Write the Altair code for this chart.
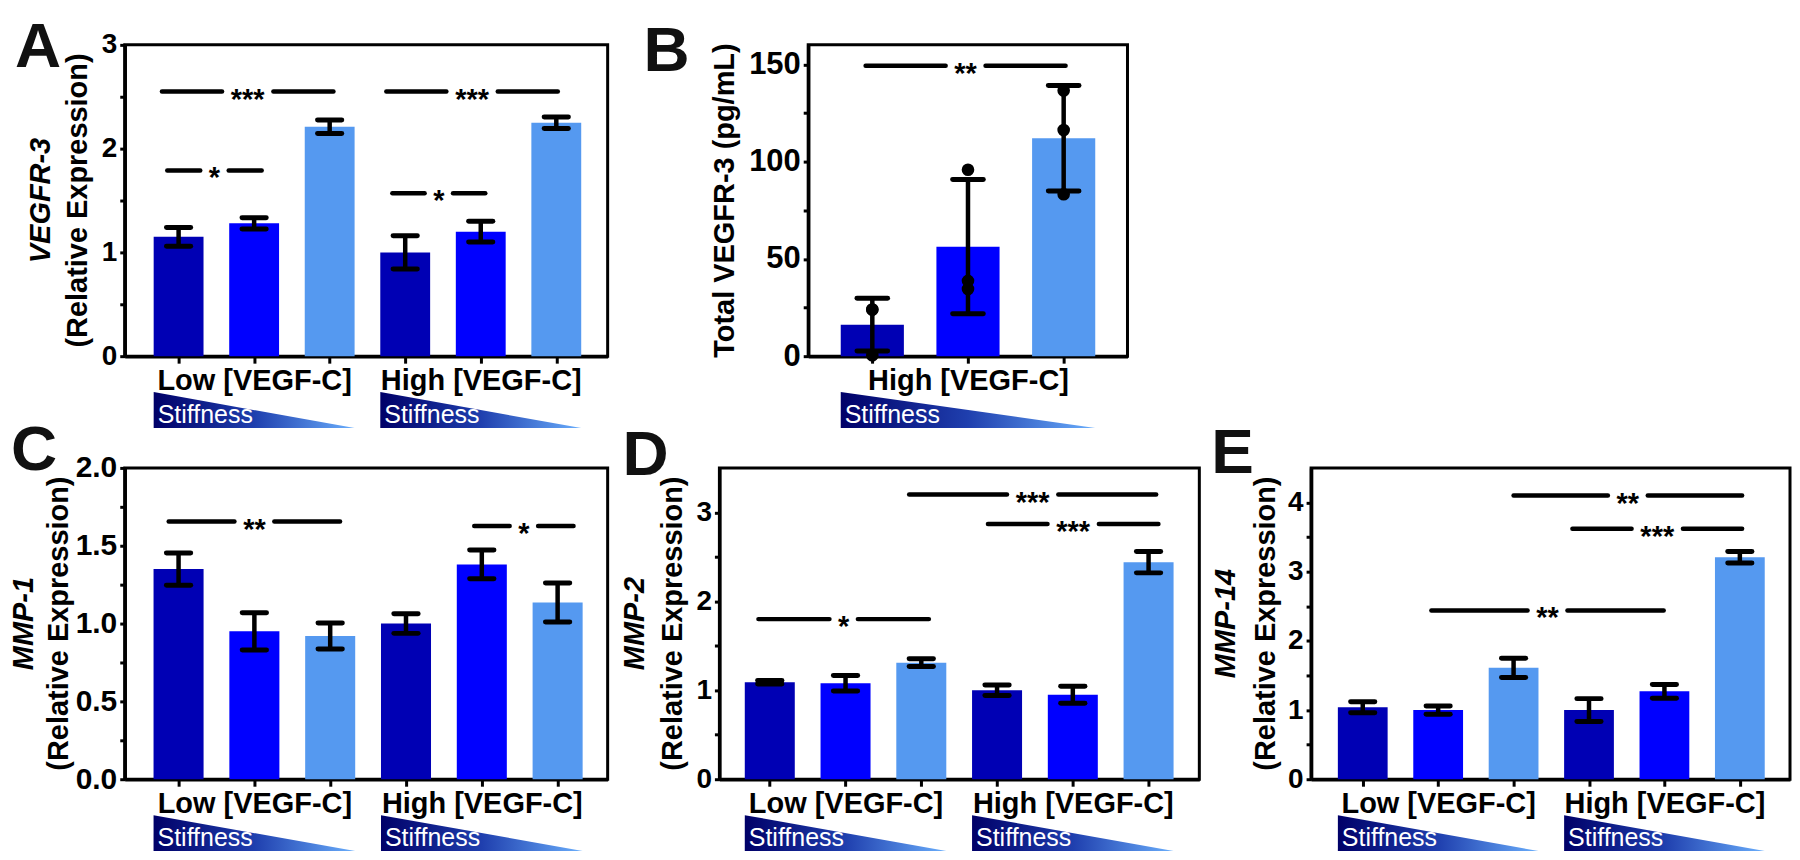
import altair as alt
import pandas as pd

FONT = "Liberation Sans"
DARK, MID, LIGHT = "#0000b4", "#0000ff", "#5599f0"

# ---------------- data ----------------
colors6 = [DARK, MID, LIGHT, DARK, MID, LIGHT]
colors3 = [DARK, MID, LIGHT]

a_mean = [1.15, 1.28, 2.21, 1.00, 1.20, 2.25]
a_err = [0.09, 0.055, 0.065, 0.16, 0.10, 0.055]
a_sig_x1 = [-0.22, 2.75, -0.15, 2.83]
a_sig_x2 = [2.05, 5.02, 1.10, 4.06]
a_sig_y = [2.55, 2.55, 1.79, 1.57]
a_sig_lab = ["***", "***", "*", "*"]

b_mean = [16.2, 56.3, 112.0]
b_err = [13.6, 34.5, 27.1]
b_pts_bar = [0, 0, 0, 1, 1, 1, 2, 2, 2]
b_pts_val = [24.0, 24.0, 0.5, 95.8, 38.7, 34.5, 136.5, 116.2, 83.2]
b_sig_x1 = [-0.07]
b_sig_x2 = [2.02]
b_sig_y = [149.3]
b_sig_lab = ["**"]

c_mean = [1.35, 0.95, 0.92, 1.00, 1.38, 1.135]
c_err = [0.104, 0.12, 0.083, 0.063, 0.092, 0.125]
c_sig_x1 = [-0.13, 3.90]
c_sig_x2 = [2.13, 5.21]
c_sig_y = [1.655, 1.627]
c_sig_lab = ["**", "*"]

d_mean = [1.09, 1.08, 1.31, 1.00, 0.95, 2.44]
d_err = [0.02, 0.087, 0.044, 0.06, 0.095, 0.12]
d_sig_x1 = [1.84, 2.88, -0.15]
d_sig_x2 = [5.10, 5.13, 2.10]
d_sig_y = [3.20, 2.87, 1.80]
d_sig_lab = ["***", "***", "*"]

e_mean = [1.04, 1.00, 1.61, 1.00, 1.27, 3.21]
e_err = [0.08, 0.06, 0.14, 0.165, 0.10, 0.083]
e_sig_x1 = [2.00, 2.78, 0.91]
e_sig_x2 = [5.03, 5.03, 3.99]
e_sig_y = [4.10, 3.62, 2.44]
e_sig_lab = ["**", "***", "**"]

HALF_BAR = 0.33
CAP = 0.16

GRAD = alt.Gradient(
    gradient="linear",
    stops=[
        alt.GradientStop(color="#000068", offset=0),
        alt.GradientStop(color="#1f3fae", offset=0.5),
        alt.GradientStop(color="#6aaefc", offset=1),
    ],
    x1=0, x2=1, y1=0, y2=0,
)


def make_panel(means, errs, colors, sx1, sx2, sy, slab, ydom, yticks, ymajor, yfmt,
               ylab_size, w, h, xdom, glabels, groups, letter, letter_xy,
               title_lines, title_x, pts=None):
    n = len(means)
    ppx = w / (xdom[1] - xdom[0])
    ppy = h / (ydom[1] - ydom[0])
    idx = list(range(n))

    bars = pd.DataFrame({"i": idx, "mean": means, "err": errs, "color": colors})
    bars["l"] = bars["i"] - HALF_BAR
    bars["r"] = bars["i"] + HALF_BAR
    bars["lo"] = bars["mean"] - bars["err"]
    bars["hi"] = bars["mean"] + bars["err"]
    bars["cl"] = bars["i"] - CAP
    bars["cr"] = bars["i"] + CAP
    bars["zero"] = 0.0

    xscale = alt.Scale(domain=xdom, nice=False, zero=False)
    yscale = alt.Scale(domain=ydom, nice=False, zero=False)

    xexpr = " : ".join(f"datum.value == {k} ? '{v}'" for k, v in glabels.items()) + " : ''"
    xaxis = alt.Axis(values=idx, labelExpr=xexpr, title=None, grid=False,
                     tickSize=7, tickWidth=3, tickColor="black",
                     domainWidth=3.5, domainColor="black",
                     labelFont=FONT, labelFontSize=29, labelFontWeight="bold",
                     labelColor="black", labelPadding=3, labelOverlap=False,
                     labelFlush=False, labelBound=False, labelLimit=600)
    major_list = "[" + ",".join(str(v) for v in ymajor) + "]"
    yexpr = f"indexof({major_list}, datum.value) >= 0 ? format(datum.value, '{yfmt}') : ''"
    yaxis = alt.Axis(values=yticks, labelExpr=yexpr, title=None, grid=False,
                     tickSize=5, tickWidth=3, tickColor="black",
                     domainWidth=3.5, domainColor="black",
                     labelFont=FONT, labelFontSize=ylab_size, labelFontWeight="bold",
                     labelColor="black", labelPadding=3, labelOverlap=False,
                     labelFlush=False, labelBound=False, labelLimit=300)

    def X(f):
        return alt.X(f, type="quantitative", scale=xscale, axis=xaxis)

    def Y(f):
        return alt.Y(f, type="quantitative", scale=yscale, axis=yaxis)

    base = alt.Chart(bars)
    layers = []
    layers.append(base.mark_bar().encode(
        x=X("l"), x2="r", y=Y("mean"), y2="zero",
        color=alt.Color("color:N", scale=None)))
    layers.append(base.mark_rule(strokeWidth=4.5, color="black").encode(
        x=X("i"), y=Y("lo"), y2="hi"))
    caps = pd.concat([
        bars[["cl", "cr", "hi"]].rename(columns={"hi": "v"}),
        bars[["cl", "cr", "lo"]].rename(columns={"lo": "v"}),
    ])
    layers.append(alt.Chart(caps).mark_rule(strokeWidth=5, color="black", strokeCap="round").encode(
        x=X("cl"), x2="cr", y=Y("v")))

    if pts is not None:
        pdf = pd.DataFrame({"i": pts[0], "v": pts[1]})
        layers.append(alt.Chart(pdf).mark_circle(size=160, color="black", opacity=1).encode(
            x=X("i"), y=Y("v")))

    # significance bars
    segs = []
    labs = []
    for x1, x2, yv, lab in zip(sx1, sx2, sy, slab):
        xm = (x1 + x2) / 2
        gap = (11.5 * len(lab) + 17) / 2 / ppx
        segs.append({"xa": x1, "xb": xm - gap, "y": yv})
        segs.append({"xa": xm + gap, "xb": x2, "y": yv})
        labs.append({"xm": xm, "y": yv, "lab": lab})
    layers.append(alt.Chart(pd.DataFrame(segs)).mark_rule(
        strokeWidth=4.5, color="black", strokeCap="round").encode(
        x=X("xa"), x2="xb", y=Y("y")))
    layers.append(alt.Chart(pd.DataFrame(labs)).mark_text(
        font=FONT, fontSize=29, fontWeight="bold", color="black",
        align="center", baseline="alphabetic", dy=17).encode(
        x=X("xm"), y=Y("y"), text="lab:N"))

    # stiffness triangles
    tri = []
    stx = []
    for g, (a, b) in enumerate(groups):
        left, right = a - HALF_BAR, b + HALF_BAR
        tri.append({"tri": g, "x": left, "yt": -36 / ppy, "yb": -72 / ppy})
        tri.append({"tri": g, "x": right, "yt": -72 / ppy, "yb": -72 / ppy})
        stx.append({"x": left, "t": "Stiffness"})
    layers.append(alt.Chart(pd.DataFrame(tri)).mark_area(color=GRAD, opacity=1).encode(
        x=X("x"), y=Y("yt"), y2="yb", detail="tri:N"))
    layers.append(alt.Chart(pd.DataFrame(stx)).mark_text(
        font=FONT, fontSize=25, color="white", align="left", baseline="alphabetic", dx=4).encode(
        x=X("x"), y=alt.value(h + 67), text="t:N"))

    # panel letter
    layers.append(alt.Chart(pd.DataFrame({"t": [letter]})).mark_text(
        font=FONT, fontSize=64, fontWeight="bold", color="#111111",
        align="left", baseline="alphabetic").encode(
        x=alt.value(letter_xy[0]), y=alt.value(letter_xy[1]), text="t:N"))

    # y axis title lines
    for (txt, italic), tx in zip(title_lines, title_x):
        layers.append(alt.Chart(pd.DataFrame({"t": [txt]})).mark_text(
            font=FONT, fontSize=29, fontWeight="bold",
            fontStyle="italic" if italic else "normal", color="black",
            angle=270, align="center", baseline="middle").encode(
            x=alt.value(tx), y=alt.value(h / 2), text="t:N"))

    return alt.layer(*layers).properties(width=w, height=h)


H = 312
two_groups = [(0, 2), (3, 5)]
gl6 = {1: "Low [VEGF-C]", 4: "High [VEGF-C]"}

pA = make_panel(a_mean, a_err, colors6, a_sig_x1, a_sig_x2, a_sig_y, a_sig_lab,
                [0, 3], [0, 0.5, 1, 1.5, 2, 2.5, 3], [0, 1, 2, 3], "d", 28,
                484, H, [-0.713, 5.68], gl6, two_groups, "A", (-110, 22),
                [("VEGFR-3", True), ("(Relative  Expression)", False)], [-84, -47])

pB = make_panel(b_mean, b_err, colors3, b_sig_x1, b_sig_x2, b_sig_y, b_sig_lab,
                [0, 160], [0, 25, 50, 75, 100, 125, 150], [0, 50, 100, 150], "d", 31,
                320, H, [-0.67, 2.667], {1: "High [VEGF-C]"}, [(0, 2)], "B", (-165, 26),
                [("Total VEGFR-3 (pg/mL)", False)], [-83],
                pts=(b_pts_bar, b_pts_val))

pC = make_panel(c_mean, c_err, colors6, c_sig_x1, c_sig_x2, c_sig_y, c_sig_lab,
                [0, 2], [0, 0.25, 0.5, 0.75, 1, 1.25, 1.5, 1.75, 2], [0, 0.5, 1, 1.5, 2], ".1f", 30,
                484, H, [-0.71, 5.66], gl6, two_groups, "C", (-114, 2),
                [("MMP-1", True), ("(Relative Expression)", False)], [-101, -66])

pD = make_panel(d_mean, d_err, colors6, d_sig_x1, d_sig_x2, d_sig_y, d_sig_lab,
                [0, 3.5], [0, 0.5, 1, 1.5, 2, 2.5, 3], [0, 1, 2, 3], "d", 28,
                481, H, [-0.665, 5.67], gl6, two_groups, "D", (-97, 7),
                [("MMP-2", True), ("(Relative  Expression)", False)], [-85, -46])

pE = make_panel(e_mean, e_err, colors6, e_sig_x1, e_sig_x2, e_sig_y, e_sig_lab,
                [0, 4.5], [0, 0.5, 1, 1.5, 2, 2.5, 3, 3.5, 4], [0, 1, 2, 3, 4], "d", 28,
                480, H, [-0.685, 5.665], gl6, two_groups, "E", (-100, 5),
                [("MMP-14", True), ("(Relative Expression)", False)], [-85, -45])

row1 = alt.hconcat(pA, pB, spacing=201, bounds="flush")
row2 = alt.hconcat(pC, pD, pE, spacing=112, bounds="flush")

chart = alt.vconcat(row1, row2, spacing=-13).properties(
    padding={"left": 0, "top": 5, "right": 0, "bottom": 0},
    background="white",
).configure_view(stroke="black", strokeWidth=3)

chart.save("out.html", embed_options={"renderer": "svg", "actions": False})
